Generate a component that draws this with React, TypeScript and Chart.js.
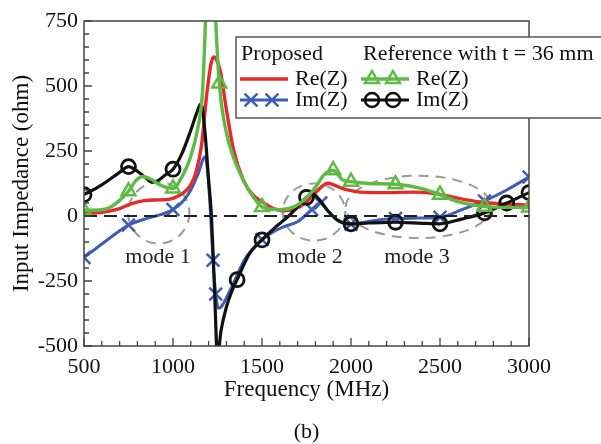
import { useEffect, useRef } from "react";
import { Chart, registerables } from "chart.js";

Chart.register(...registerables);

const FONT = '"Liberation Serif", "Times New Roman", serif';

// Frequency axis (MHz) and impedance axis (ohm)
const X_MIN = 500;
const X_MAX = 3000;
const X_STEP = 500;
const X_MINOR = 100;
const Y_MIN = -500;
const Y_MAX = 750;
const Y_STEP = 250;
const Y_MINOR = 50;

// Proposed antenna: Re(Z)
const redFreq = [500, 600, 700, 760, 850, 930, 1000, 1060, 1100, 1130, 1160, 1190, 1215, 1230, 1245, 1265, 1300, 1340, 1395, 1450, 1500, 1560, 1620, 1680, 1740, 1800, 1870, 1950, 2050, 2200, 2350, 2450, 2550, 2650, 2750, 2850, 3000];
const redRe = [10, 14, 28, 46, 60, 62, 68, 90, 120, 170, 270, 470, 590, 612, 600, 560, 410, 255, 138, 80, 55, 30, 20, 25, 48, 90, 126, 106, 92, 90, 92, 88, 76, 62, 52, 46, 42];

// Proposed antenna: Im(Z)
const blueFreq = [500, 625, 750, 850, 930, 1000, 1060, 1100, 1140, 1180, 1195, 1210, 1225, 1240, 1255, 1270, 1300, 1340, 1400, 1450, 1500, 1560, 1620, 1700, 1780, 1830, 1870, 1920, 2000, 2125, 2250, 2375, 2500, 2625, 2750, 2875, 3000];
const blueIm = [-160, -95, -35, -10, 5, 25, 60, 100, 160, 228, 170, 20, -170, -300, -355, -350, -315, -258, -170, -125, -90, -62, -42, -22, 25, 50, 20, -15, -32, -18, -10, -8, -5, 25, 58, 100, 150];
const blueMarks = [500, 750, 1000, 1225, 1240, 1500, 1780, 1830, 2000, 2250, 2500, 2750, 3000];

// Reference antenna (t = 36 mm): Re(Z)
const greenFreq = [500, 600, 650, 700, 750, 790, 830, 880, 930, 1000, 1050, 1100, 1140, 1165, 1180, 1195, 1210, 1225, 1240, 1260, 1300, 1340, 1410, 1460, 1500, 1600, 1680, 1750, 1800, 1850, 1880, 1900, 1925, 1950, 2000, 2100, 2250, 2400, 2500, 2600, 2750, 2875, 3000];
const greenRe = [22, 24, 35, 60, 95, 135, 152, 140, 118, 106, 150, 230, 340, 470, 700, 1000, 1150, 1000, 750, 510, 320, 225, 118, 65, 35, 24, 35, 70, 110, 160, 172, 176, 160, 140, 132, 125, 122, 105, 82, 55, 36, 33, 33];
const greenMarks = [500, 750, 1000, 1260, 1500, 1900, 2000, 2250, 2500, 2750, 3000];

// Reference antenna (t = 36 mm): Im(Z)
const blackFreq = [500, 600, 700, 750, 800, 850, 880, 920, 960, 1000, 1050, 1100, 1130, 1158, 1180, 1200, 1215, 1232, 1250, 1270, 1300, 1330, 1360, 1430, 1500, 1580, 1650, 1700, 1750, 1785, 1820, 1870, 1930, 2000, 2100, 2250, 2400, 2500, 2620, 2750, 2875, 3000];
const blackIm = [82, 120, 168, 190, 172, 145, 130, 138, 160, 180, 240, 330, 390, 432, 320, 140, 10, -260, -540, -440, -350, -290, -245, -145, -92, -40, 0, 35, 72, 85, 65, 20, -18, -30, -27, -24, -28, -30, -12, 12, 50, 90];
const blackMarks = [500, 750, 1000, 1360, 1500, 1750, 2000, 2250, 2500, 2750, 2875, 3000];

// Resonance mode groups: centre (MHz, ohm), radii (MHz, ohm)
const modeNames = ["mode 1", "mode 2", "mode 3"];
const modeCenterF = [920, 1792, 2380];
const modeCenterZ = [12, 15, 35];
const modeRadiusF = [172, 176, 410];
const modeRadiusZ = [118, 110, 120];
const modeLabelF = [916, 1770, 2371];
const modeLabelZ = [-158, -158, -158];

const RED = "#e62a2c";
const BLUE = "#3c5cb6";
const GREEN = "#5dbb45";
const BLACK = "#111111";

const toPoints = (xs: number[], ys: number[]) => xs.map((x, i) => ({ x, y: ys[i] }));

const markerRadius = (marks: number[], r: number) => (ctx: any) =>
  ctx.raw && marks.includes(ctx.raw.x) ? r : 0;

function drawMarker(ctx: CanvasRenderingContext2D, style: string, x: number, y: number, r: number) {
  ctx.beginPath();
  if (style === "crossRot") {
    const d = r * Math.SQRT1_2;
    ctx.moveTo(x - d, y - d);
    ctx.lineTo(x + d, y + d);
    ctx.moveTo(x + d, y - d);
    ctx.lineTo(x - d, y + d);
  } else if (style === "circle") {
    ctx.arc(x, y, r, 0, Math.PI * 2);
  } else {
    ctx.moveTo(x, y - r);
    ctx.lineTo(x + r * 0.866, y + r * 0.5);
    ctx.lineTo(x - r * 0.866, y + r * 0.5);
    ctx.closePath();
  }
  ctx.stroke();
}

// Dashed ellipses and "mode n" captions, under the curves
const modesPlugin = {
  id: "modes",
  beforeDatasetsDraw(chart: any) {
    const { ctx, scales } = chart;
    const xs = scales.x;
    const ys = scales.y;
    ctx.save();
    ctx.strokeStyle = "#9a9a9a";
    ctx.lineWidth = 2;
    ctx.setLineDash([10, 7]);
    modeNames.forEach((_, i) => {
      const cx = xs.getPixelForValue(modeCenterF[i]);
      const cy = ys.getPixelForValue(modeCenterZ[i]);
      const rx = Math.abs(xs.getPixelForValue(modeCenterF[i] + modeRadiusF[i]) - cx);
      const ry = Math.abs(ys.getPixelForValue(modeCenterZ[i] + modeRadiusZ[i]) - cy);
      ctx.beginPath();
      ctx.ellipse(cx, cy, rx, ry, 0, 0, Math.PI * 2);
      ctx.stroke();
    });
    ctx.setLineDash([]);
    ctx.fillStyle = "#222";
    ctx.font = `22px ${FONT}`;
    ctx.textAlign = "center";
    ctx.textBaseline = "middle";
    modeNames.forEach((name, i) => {
      ctx.fillText(name, xs.getPixelForValue(modeLabelF[i]), ys.getPixelForValue(modeLabelZ[i]));
    });
    ctx.restore();
  },
};

// Plot frame, inward tick marks, legend box and panel caption
const framePlugin = {
  id: "frame",
  afterDraw(chart: any) {
    const { ctx, chartArea, scales } = chart;
    const { left, right, top, bottom } = chartArea;
    ctx.save();
    ctx.strokeStyle = "#444";
    ctx.lineWidth = 1.5;
    ctx.strokeRect(left, top, right - left, bottom - top);

    ctx.lineWidth = 1.3;
    ctx.beginPath();
    for (let f = X_MIN; f <= X_MAX; f += X_MINOR) {
      const px = scales.x.getPixelForValue(f);
      const len = f % X_STEP === 0 ? 8 : 5;
      ctx.moveTo(px, bottom);
      ctx.lineTo(px, bottom - len);
    }
    for (let v = Y_MIN; v <= Y_MAX; v += Y_MINOR) {
      const py = scales.y.getPixelForValue(v);
      const len = v % Y_STEP === 0 ? 8 : 5;
      ctx.moveTo(left, py);
      ctx.lineTo(left + len, py);
    }
    ctx.stroke();

    // legend
    const bx = 236;
    const by = 37;
    ctx.fillStyle = "#fff";
    ctx.fillRect(bx, by, 380, 81);
    ctx.strokeStyle = "#555";
    ctx.lineWidth = 1.5;
    ctx.strokeRect(bx, by, 380, 81);

    ctx.fillStyle = "#111";
    ctx.font = `22px ${FONT}`;
    ctx.textAlign = "left";
    ctx.textBaseline = "middle";
    ctx.fillText("Proposed", bx + 5, by + 17);
    ctx.fillText("Reference with t = 36 mm", bx + 127, by + 17);
    ctx.fillText("Re(Z)", bx + 59, by + 42);
    ctx.fillText("Im(Z)", bx + 59, by + 63);
    ctx.fillText("Re(Z)", bx + 180, by + 42);
    ctx.fillText("Im(Z)", bx + 180, by + 63);

    const sample = (x0: number, y: number, color: string, width: number, style: string | null, r: number) => {
      ctx.strokeStyle = color;
      ctx.lineWidth = width;
      ctx.beginPath();
      ctx.moveTo(x0, y);
      ctx.lineTo(x0 + 48, y);
      ctx.stroke();
      if (style) {
        ctx.lineWidth = 2.5;
        drawMarker(ctx, style, x0 + 11, y, r);
        drawMarker(ctx, style, x0 + 32, y, r);
      }
    };
    sample(bx + 4, by + 42, RED, 3.3, null, 0);
    sample(bx + 4, by + 63, BLUE, 3, "crossRot", 9);
    sample(bx + 125, by + 42, GREEN, 3.3, "triangle", 8);
    sample(bx + 125, by + 63, BLACK, 3, "circle", 7);

    ctx.fillStyle = "#111";
    ctx.textAlign = "center";
    ctx.fillText("(b)", (left + right) / 2, 432);
    ctx.restore();
  },
};

export default function App() {
  const canvasRef = useRef<HTMLCanvasElement | null>(null);

  useEffect(() => {
    if (!canvasRef.current) return;
    const chart = new Chart(canvasRef.current, {
      type: "line",
      data: {
        datasets: [
          {
            label: "zero",
            data: toPoints([X_MIN, X_MAX], [0, 0]),
            borderColor: "#222",
            borderWidth: 2,
            borderDash: [13, 7],
            pointRadius: 0,
          },
          {
            label: "Reference Re(Z)",
            data: toPoints(greenFreq, greenRe),
            borderColor: GREEN,
            borderWidth: 3.4,
            cubicInterpolationMode: "monotone",
            pointStyle: "triangle",
            pointRadius: markerRadius(greenMarks, 8),
            pointBorderColor: GREEN,
            pointBackgroundColor: "rgba(255,255,255,0)",
            pointBorderWidth: 2.5,
          },
          {
            label: "Reference Im(Z)",
            data: toPoints(blackFreq, blackIm),
            borderColor: BLACK,
            borderWidth: 3.2,
            cubicInterpolationMode: "monotone",
            pointStyle: "circle",
            pointRadius: markerRadius(blackMarks, 7),
            pointBorderColor: BLACK,
            pointBackgroundColor: "rgba(255,255,255,0)",
            pointBorderWidth: 2.8,
          },
          {
            label: "Proposed Re(Z)",
            data: toPoints(redFreq, redRe),
            borderColor: RED,
            borderWidth: 3.4,
            cubicInterpolationMode: "monotone",
            pointRadius: 0,
          },
          {
            label: "Proposed Im(Z)",
            data: toPoints(blueFreq, blueIm),
            borderColor: BLUE,
            borderWidth: 3,
            cubicInterpolationMode: "monotone",
            pointStyle: "crossRot",
            pointRadius: markerRadius(blueMarks, 9),
            pointBorderColor: BLUE,
            pointBorderWidth: 2.5,
          },
        ],
      },
      options: {
        responsive: false,
        animation: false,
        events: [],
        layout: { padding: { left: 0, top: 21, right: 72, bottom: 40 } },
        plugins: { legend: { display: false }, tooltip: { enabled: false } },
        scales: {
          x: {
            type: "linear",
            min: X_MIN,
            max: X_MAX,
            grid: { display: false, drawTicks: false },
            border: { display: false },
            ticks: {
              stepSize: X_STEP,
              padding: 8,
              maxRotation: 0,
              color: "#111",
              font: { family: FONT, size: 22 },
              callback: (v: any) => String(v),
            },
            title: {
              display: true,
              text: "Frequency (MHz)",
              color: "#111",
              font: { family: FONT, size: 23 },
              padding: { top: 0, bottom: 0 },
            },
            afterFit: (s: any) => {
              s.height = 58;
            },
          },
          y: {
            type: "linear",
            min: Y_MIN,
            max: Y_MAX,
            grid: { display: false, drawTicks: false },
            border: { display: false },
            ticks: {
              stepSize: Y_STEP,
              padding: 6,
              color: "#111",
              font: { family: FONT, size: 22 },
              callback: (v: any) => String(v),
            },
            title: {
              display: true,
              text: "Input Impedance (ohm)",
              color: "#111",
              font: { family: FONT, size: 23 },
              padding: { top: 8, bottom: 0 },
            },
            afterFit: (s: any) => {
              s.width = 84;
            },
          },
        },
      },
      plugins: [modesPlugin, framePlugin],
    });
    return () => chart.destroy();
  }, []);

  return (
    <div style={{ position: "absolute", left: 0, top: 0, width: 601, height: 444, background: "#fff" }}>
      <canvas ref={canvasRef} width={601} height={444} />
    </div>
  );
}
